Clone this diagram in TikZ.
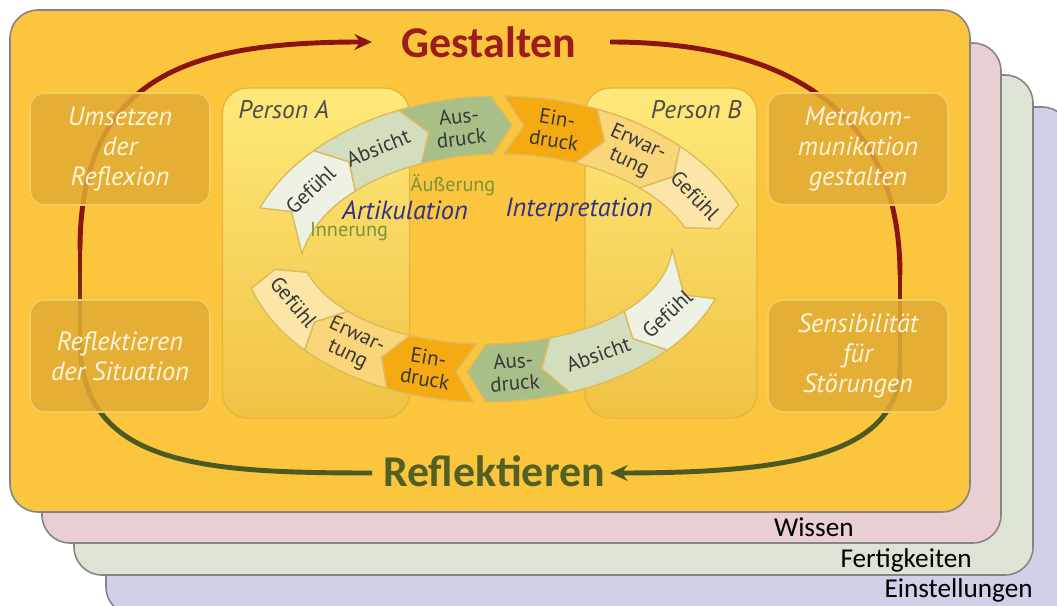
\documentclass[tikz,border=0pt]{standalone}
\usepackage{fontspec}
\setmainfont{PT Sans}
\newfontfamily\calfont{Carlito}
\usetikzlibrary{arrows.meta}

\definecolor{layerblue}{HTML}{CED1E8}
\definecolor{layergreen}{HTML}{DDE4D5}
\definecolor{layerpink}{HTML}{E9CED2}
\definecolor{layeryellow}{HTML}{FBC53E}
\definecolor{layerline}{HTML}{858585}
\definecolor{loopred}{HTML}{8C1313}
\definecolor{loopgreen}{HTML}{4B5A23}
\definecolor{titlered}{HTML}{9C1B1B}
\definecolor{titlegreen}{HTML}{526024}
\definecolor{boxfill}{HTML}{E2AB34}
\definecolor{boxline}{HTML}{F3CC62}
\definecolor{boxtext}{HTML}{FFF5DC}
\definecolor{persontop}{HTML}{FFE97A}
\definecolor{personbot}{HTML}{F0C244}
\definecolor{personline}{HTML}{E5B53E}
\definecolor{gefpale}{HTML}{EEF2E4}
\definecolor{absgreen}{HTML}{D3DEBE}
\definecolor{ausgreen}{HTML}{A9BF88}
\definecolor{einorange}{HTML}{F5AA12}
\definecolor{erwyellow}{HTML}{FAD57A}
\definecolor{gefcream}{HTML}{FBE6A8}
\definecolor{chevline}{HTML}{DCBB5C}
\definecolor{chevtxt}{HTML}{383838}
\definecolor{artblue}{HTML}{2F318C}
\definecolor{innergreen}{HTML}{76953A}

\begin{document}
\begin{tikzpicture}[x=0.02cm,y=0.02cm,
    layer/.style={draw=layerline, line width=0.9pt, rounded corners=0.56cm},
    layerlabel/.style={anchor=east, inner sep=0pt, font=\calfont\fontsize{15.5}{18}\selectfont},
    loopline/.style={line width=2.8pt},
    bigtitle/.style={font=\calfont\bfseries\fontsize{25}{30}\selectfont, inner sep=0pt},
    outerbox/.style={draw=boxline, line width=1pt, fill=boxfill, fill opacity=.85, text opacity=1,
        rounded corners=0.3cm, minimum width=3.6cm, minimum height=2.24cm, align=center,
        text=boxtext, font=\itshape\fontsize{15}{17}\selectfont},
    person/.style={draw=personline, line width=0.8pt, top color=persontop, bottom color=personbot,
        rounded corners=0.5cm, minimum height=6.6cm},
    personlabel/.style={text=black!70, inner sep=0pt, font=\itshape\fontsize{14.5}{17}\selectfont},
    chev/.style={draw=chevline, line width=0.8pt, line join=round},
    chevtext/.style={text=chevtxt, inner sep=0pt, align=center, font=\fontsize{12}{12.5}\selectfont},
    phase/.style={text=artblue, inner sep=0pt, font=\itshape\fontsize{15}{18}\selectfont},
    sublabel/.style={text=innergreen, inner sep=0pt, font=\fontsize{11.5}{14}\selectfont}]

\fill[white] (0,0) rectangle (1057,605);
\useasboundingbox (0,0) rectangle (1057,605);

% stacked layers
\draw[layer, fill=layerblue] (106,-10) rectangle (1070,498);
\draw[layer, fill=layergreen] (74,30) rectangle (1033,530);
\draw[layer, fill=layerpink] (42,62) rectangle (1001,562);
\draw[layer, fill=layeryellow] (10,93) rectangle (970,595);

\node[layerlabel] (wissen) at (854,78) {Wissen};
\node[layerlabel] (fertig) at (972,45) {Fertigkeiten};
\node[layerlabel] (einst) at (1033,15) {Einstellungen};

% titles
\node[bigtitle, text=titlered] (gest) at (489,563) {Gestalten};
\node[bigtitle, text=titlegreen] (refl) at (494,134) {Reflektieren};

% outer loop
\coordinate (lt) at (80,355);
\coordinate (lb) at (80,265);
\coordinate (rt) at (900,330);
\coordinate (rb) at (900,240);
\coordinate (gl) at (372,563);
\coordinate (gr) at (610,563);
\coordinate (rl) at (372,132);
\coordinate (rr) at (610,132);

\draw[loopline, loopred, -{Stealth[length=10pt,width=9pt]}] (lt) .. controls (80,530) and (190,563) .. (gl);
\draw[loopline, loopred] (gr) .. controls (780,563) and (900,500) .. (rt);
\draw[loopline, loopgreen, -{Stealth[length=10pt,width=9pt]}] (rb) .. controls (900,150) and (790,132) .. (rr);
\draw[loopline, loopgreen] (rl) .. controls (200,132) and (80,140) .. (lb);
% colour change on both sides
\foreach \i in {0,...,9}{
    \pgfmathtruncatemacro\p{100-\i*10}
    \draw[loopline, color=loopred!\p!loopgreen] (80,{355-\i*9+0.5}) -- (80,{355-(\i+1)*9-0.5});
    \draw[loopline, color=loopred!\p!loopgreen] (900,{330-\i*9+0.5}) -- (900,{330-(\i+1)*9-0.5});
}

% side boxes
\node[outerbox] (umsetzen) at (120,456) {Umsetzen\\der\\Reflexion};
\node[outerbox] (reflsit) at (120,249) {Reflektieren\\der Situation};
\node[outerbox] (metakom) at (858,456) {Metakom-\\munikation\\gestalten};
\node[outerbox] (sensib) at (858,249) {Sensibilität\\für\\Störungen};

% persons
\node[person, minimum width=3.74cm] (panela) at (316,352) {};
\node[person, minimum width=3.44cm] (panelb) at (671,352) {};
\node[personlabel, anchor=west] (pa) at (238,495) {Person A};
\node[personlabel, anchor=east] (pb) at (742,495) {Person B};

% upper arc, A to B
\def\cx{500}\def\cy{330}\def\ellA{230}\def\ellB{150}\def\hw{29}
\foreach \ta/\ti/\tn/\tb/\col/\txt [count=\i] in
    {158/170/155/136/gefpale/Gefühl, 136/136/131/113/absgreen/Absicht,
     113/113/108/92/ausgreen/{Aus-\\druck}, 89/89/84/68/einorange/{Ein-\\druck},
     68/68/63/46/erwyellow/{Erwar-\\tung}, 46/46/41/23/gefcream/Gefühl}{
    \path[chev, fill=\col]
        plot[domain=\ta:\tb, samples=16] ({\cx+(\ellA+\hw)*cos(\x)},{\cy+(\ellB+\hw)*sin(\x)})
        -- ({\cx+\ellA*cos(\tb-5)},{\cy+\ellB*sin(\tb-5)})
        -- plot[domain=\tb:\ti, samples=16] ({\cx+(\ellA-\hw)*cos(\x)},{\cy+(\ellB-\hw)*sin(\x)})
        -- ({\cx+\ellA*cos(\tn)},{\cy+\ellB*sin(\tn)}) -- cycle;
    \pgfmathsetmacro\tc{(\tn+\tb)/2}
    \pgfmathsetmacro\rot{atan2(-\ellB*cos(\tc),\ellA*sin(\tc))}
    \node[chevtext, rotate=\rot] (top\i) at ({\cx+\ellA*cos(\tc)},{\cy+\ellB*sin(\tc)}) {\txt};
}

% lower arc, B to A
\def\cx{486}\def\cy{360}\def\ellA{215}\def\ellB{128}
\foreach \ta/\ti/\tn/\tb/\col/\txt [count=\i] in
    {340/358/337/318/gefpale/Gefühl, 318/318/313/290/absgreen/Absicht,
     290/290/285/270/ausgreen/{Aus-\\druck}, 267/267/262/246/einorange/{Ein-\\druck},
     246/246/241/222/erwyellow/{Erwar-\\tung}, 222/222/217/196/gefcream/Gefühl}{
    \path[chev, fill=\col]
        plot[domain=\ta:\tb, samples=16] ({\cx+(\ellA+\hw)*cos(\x)},{\cy+(\ellB+\hw)*sin(\x)})
        -- ({\cx+\ellA*cos(\tb-5)},{\cy+\ellB*sin(\tb-5)})
        -- plot[domain=\tb:\ti, samples=16] ({\cx+(\ellA-\hw)*cos(\x)},{\cy+(\ellB-\hw)*sin(\x)})
        -- ({\cx+\ellA*cos(\tn)},{\cy+\ellB*sin(\tn)}) -- cycle;
    \pgfmathsetmacro\tc{(\tn+\tb)/2}
    \pgfmathsetmacro\rot{atan2(\ellB*cos(\tc),-\ellA*sin(\tc))}
    \node[chevtext, rotate=\rot] (bot\i) at ({\cx+\ellA*cos(\tc)},{\cy+\ellB*sin(\tc)}) {\txt};
}

% phase labels
\node[sublabel] (aeuss) at (453,420) {Äußerung};
\node[sublabel] (inner) at (349,373) {Innerung};
\node[phase] (artik) at (405,395) {Artikulation};
\node[phase] (interp) at (579,395) {Interpretation};
\end{tikzpicture}
\end{document}
